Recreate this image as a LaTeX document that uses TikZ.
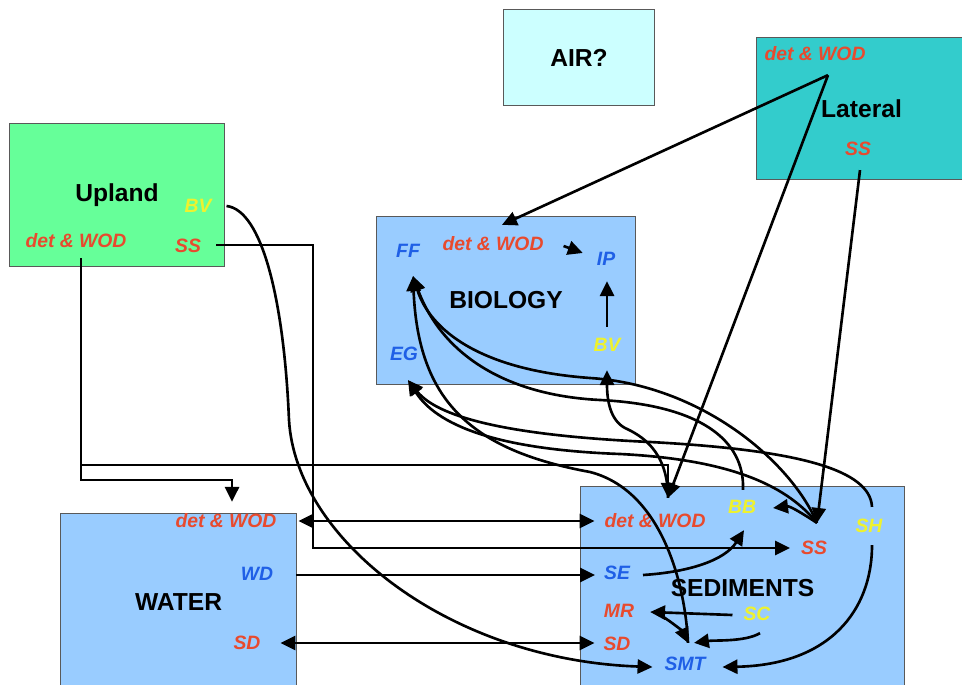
\documentclass[tikz,border=0pt]{standalone}
\usepackage{fontspec}
\setmainfont{Liberation Sans}
\usetikzlibrary{shapes,arrows.meta,calc}
\definecolor{detred}{HTML}{E84A2E}
\definecolor{flowblue}{HTML}{1F5FE6}
\definecolor{bvyellow}{HTML}{EEF22E}
\definecolor{uplandgreen}{HTML}{66FF99}
\definecolor{lateralteal}{HTML}{33CCCC}
\definecolor{airblue}{HTML}{CCFFFF}
\definecolor{poolblue}{HTML}{99CCFF}
\tikzstyle{pool} = [rectangle, draw=black!65, line width=0.6pt, anchor=north west, inner sep=0pt,
font=\bfseries\fontsize{14}{16}\selectfont]
\tikzstyle{flux} = [inner sep=1pt, text height=8pt, text depth=0pt, font=\bfseries\itshape\fontsize{11}{13}\selectfont]
\tikzstyle{arrow} = [line width=1.5pt,-{Triangle[length=8.5pt,width=8pt]}]
\tikzstyle{dblarrow} = [line width=1.5pt,{Triangle[length=8.5pt,width=8pt]}-{Triangle[length=8.5pt,width=8pt]}]

\begin{document}
\begin{tikzpicture}[x=0.02cm,y=-0.02cm]
                        \useasboundingbox (0,0) rectangle (962,685);
                        % compartments
                        \node[pool, fill=airblue, minimum width=3.02cm, minimum height=1.92cm] (air) at (503,9) {AIR?};
                        \node[pool, fill=lateralteal, minimum width=4.2cm, minimum height=2.84cm] (lateral) at (756,37) {Lateral};
                        \node[pool, fill=uplandgreen, minimum width=4.3cm, minimum height=2.86cm] (upland) at (9,123) {Upland};
                        \node[pool, fill=poolblue, minimum width=5.18cm, minimum height=3.36cm] (biology) at (376,216) {BIOLOGY};
                        \node[pool, fill=poolblue, minimum width=4.72cm, minimum height=3.54cm] (water) at (60,513) {WATER};
                        \node[pool, fill=poolblue, minimum width=6.48cm, minimum height=4.08cm] (sediments) at (580,486) {SEDIMENTS};
                        % fluxes
                        \node[flux, text=bvyellow] (ubv) at (198,205) {BV};
                        \node[flux, text=detred] (udet) at (76,240) {det \& WOD};
                        \node[flux, text=detred] (uss) at (188,245) {SS};
                        \node[flux, text=detred] (ldet) at (815,53) {det \& WOD};
                        \node[flux, text=detred] (lss) at (858,148) {SS};
                        \node[flux, text=flowblue] (ff) at (408,250) {FF};
                        \node[flux, text=detred] (bdet) at (493,243) {det \& WOD};
                        \node[flux, text=flowblue] (ip) at (606,258) {IP};
                        \node[flux, text=flowblue] (eg) at (404,353) {EG};
                        \node[flux, text=bvyellow] (bbv) at (607,344) {BV};
                        \node[flux, text=detred] (wdet) at (226,520) {det \& WOD};
                        \node[flux, text=flowblue] (wd) at (257,573) {WD};
                        \node[flux, text=detred] (wsd) at (247,642) {SD};
                        \node[flux, text=detred] (sdet) at (655,520) {det \& WOD};
                        \node[flux, text=bvyellow] (bb) at (742,506) {BB};
                        \node[flux, text=detred] (sss) at (814,547) {SS};
                        \node[flux, text=bvyellow] (sh) at (869,525) {SH};
                        \node[flux, text=flowblue] (se) at (617,572) {SE};
                        \node[flux, text=detred] (mr) at (619,610) {MR};
                        \node[flux, text=bvyellow] (sc) at (757,613) {SC};
                        \node[flux, text=detred] (ssd) at (617,643) {SD};
                        \node[flux, text=flowblue] (smt) at (685,663) {SMT};
                        \coordinate (lapex) at ($(ldet.south)+(13,13)$);
                        \coordinate (sdethub) at ($(sdet.north)+(13,-13)$);
                        \coordinate (sshub) at ($(sss.north)+(3,-15)$);
                        \coordinate (ffhub) at ($(ff.south)+(5,17)$);
                        \coordinate (eghub) at ($(eg.south)+(4,18)$);
                        \coordinate (smthub) at ($(smt.north)+(3,-11)$);
                        % upland
                        \draw[arrow] ($(udet.south)+(5,9)$) |- ($(sdet.north)+(13,-46)$) -- (sdethub);
                        \draw[arrow] ($(udet.south)+(5,9)$) |- ($(wdet.north)+(6,-31)$) -- ($(wdet.north)+(6,-9)$);
                        \draw[arrow] ($(uss.east)+(13,0)$) -- ++(97,0) |- ($(sss.west)+(-9,1)$);
                        \draw[arrow] ($(ubv.east)+(13,1)$) .. controls (262,210) and (284,300) .. (289,420)
                            .. controls (296,540) and (450,660) .. ($(smt.west)+(-10,4)$);
                        % lateral
                        \draw[arrow] (lapex) -- ($(bdet.north)+(9,-9)$);
                        \draw[arrow] (lapex) -- (sdethub);
                        \draw[arrow] ($(lss.south)+(2,13)$) -- (sshub);
                        % water
                        \draw[dblarrow] ($(wdet.east)+(20,1)$) -- ($(sdet.west)+(-8,1)$);
                        \draw[arrow] ($(wd.east)+(21,2)$) -- ($(se.west)+(-7,3)$);
                        \draw[dblarrow] ($(wsd.east)+(18,1)$) -- ($(ssd.west)+(-7,0)$);
                        % biology
                        \draw[arrow] ($(bdet.east)+(18,3)$) -- ($(ip.west)+(-12,-5)$);
                        \draw[arrow] ($(bbv.north)+(0,-8)$) -- ($(ip.south)+(1,14)$);
                        \draw[arrow] (smthub) .. controls (685,580) and (660,490) .. (590,472)
                            .. controls (470,450) and (418,400) .. (ffhub);
                        \draw[arrow] (sshub) .. controls (790,460) and (700,385) .. (590,378)
                            .. controls (480,370) and (430,330) .. (ffhub);
                        \draw[arrow] ($(bb.north)+(1,-7)$) .. controls (745,440) and (700,405) .. (600,400)
                            .. controls (500,395) and (440,350) .. (ffhub);
                        \draw[arrow] ($(sh.north)+(3,-9)$) .. controls (870,470) and (800,450) .. (650,442)
                            .. controls (520,436) and (440,420) .. (eghub);
                        \draw[arrow] (sshub) .. controls (790,490) and (740,460) .. (620,454)
                            .. controls (510,450) and (440,430) .. (eghub);
                        \draw[arrow] (sdethub) .. controls (668,450) and (640,435) .. (625,428)
                            .. controls (610,420) and (607,400) .. ($(bbv.south)+(0,17)$);
                        % sediments
                        \draw[arrow] (sshub) .. controls (800,512) and (790,506) .. ($(bb.east)+(15,2)$);
                        \draw[arrow] ($(se.east)+(11,3)$) .. controls (690,572) and (725,560) .. ($(bb.south)+(2,15)$);
                        \draw[arrow] ($(sc.west)+(-9,2)$) -- ($(mr.east)+(14,2)$);
                        \draw[arrow] ($(mr.east)+(24,5)$) .. controls (672,622) and (683,632) .. (smthub);
                        \draw[arrow] ($(sc.south)+(3,11)$) .. controls (745,642) and (715,640) .. ($(smthub)+(6,0)$);
                        \draw[arrow] ($(sh.south)+(3,11)$) .. controls (872,610) and (830,665) .. ($(smt.east)+(15,4)$);
                    \end{tikzpicture}
\end{document}
